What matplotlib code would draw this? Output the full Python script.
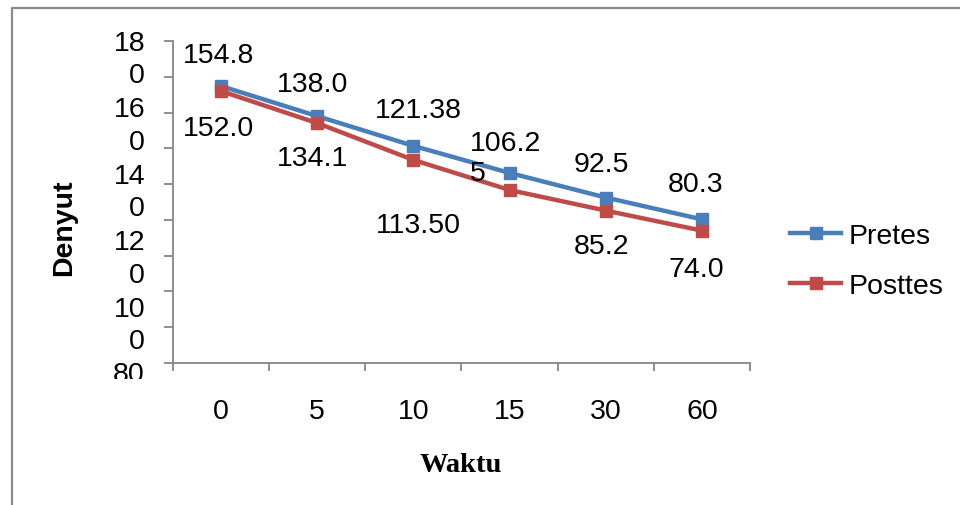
import matplotlib
matplotlib.use("Agg")
import matplotlib.pyplot as plt
from matplotlib.lines import Line2D
from matplotlib.transforms import Bbox

# ---- data ----
categories = ["0", "5", "10", "15", "30", "60"]
pretes = [154.8, 138.0, 121.38, 106.25, 92.5, 80.3]
posttes = [152.0, 134.1, 113.5, 96.7, 85.2, 74.0]
pretes_labels = ["154.8", "138.0", "121.38", "106.2\n5", "92.5", "80.3"]
posttes_labels = ["152.0", "134.1", "113.50", "", "85.2", "74.0"]
ytick_values = [180, 160, 140, 120, 100, 80]
series_names = ["Pretes", "Posttes"]

# ---- layout / styling ----
plt.rcParams['font.family'] = ['Liberation Sans', 'DejaVu Sans']
W, H = 960, 506
fig = plt.figure(figsize=(9.6, 5.06), dpi=100)
fig.patch.set_facecolor('white')

def fx(px):
    return px / W

def fy(py):
    return 1 - py / H

FS = 20.5
BLUE = '#4A7EBB'
RED = '#BE4B48'
GRAY = '#868686'

# outer frame (only top and left edges visible)
fig.add_artist(Line2D([fx(12), fx(12), fx(962)], [fy(510), fy(9), fy(9)],
                      transform=fig.transFigure, color='#8a8a8a', lw=1.6))

ax = fig.add_axes([fx(173), fy(364), (750 - 173) / W, (364 - 42) / H])
x = list(range(len(categories)))
ax.plot(x, pretes, color=BLUE, lw=3.2, marker='s', ms=8.5, label=series_names[0],
        solid_joinstyle='miter')
ax.plot(x, posttes, color=RED, lw=3.2, marker='s', ms=8.5, label=series_names[1],
        solid_joinstyle='miter')

ax.set_xlim(-0.5, len(categories) - 0.5)
ax.set_ylim(0, 180)
ax.set_yticks(list(range(0, 181, 20)))
ax.set_yticklabels([])
ax.set_xticks([i - 0.5 for i in range(len(categories) + 1)])
ax.set_xticklabels([])
ax.set_xticks(x, minor=True)
ax.set_xticklabels(categories, minor=True, fontsize=FS)
ax.tick_params(axis='x', which='minor', length=0, pad=25)
ax.tick_params(axis='x', which='major', length=6, width=1.3, color=GRAY, direction='out')
ax.tick_params(axis='y', which='major', length=6.5, width=1.3, color=GRAY, direction='out')
for s in ['top', 'right']:
    ax.spines[s].set_visible(False)
for s in ['left', 'bottom']:
    ax.spines[s].set_color(GRAY)
    ax.spines[s].set_linewidth(1.3)

# y tick labels (wrapped and stacked as in the reference, clipped at bottom)
clip = Bbox.from_extents(0, (H - 380), W, H)
for i, v in enumerate(ytick_values):
    s = str(v)
    txt = s[:2] + "\n" + s[2:] if len(s) > 2 else s
    cy = 60 + i * 66.5
    if len(s) <= 2:
        cy = 375
    t = fig.text(fx(145), fy(cy), txt, ha='right', va='center', fontsize=FS,
                 linespacing=1.33, multialignment='right')
    t.set_clip_box(clip)
    t.set_clip_on(True)

# data labels
p_off = [(-3, 31), (-5, 32), (5, 36), (-40, 15), (-4, 34), (-6, 35)]
q_off = [(-3, -37), (-5, -35), (5, -65), (0, 0), (-4, -35), (-6, -38)]
for i in x:
    lab = pretes_labels[i]
    if lab:
        ha = 'left' if "\n" in lab else 'center'
        ax.annotate(lab, (i, pretes[i]), xytext=p_off[i], textcoords='offset pixels',
                    ha=ha, va='center', fontsize=FS, linespacing=1.17,
                    multialignment='left', annotation_clip=False)
    lab = posttes_labels[i]
    if lab:
        ax.annotate(lab, (i, posttes[i]), xytext=q_off[i], textcoords='offset pixels',
                    ha='center', va='center', fontsize=FS, annotation_clip=False)

# axis titles
fig.text(fx(64), fy(228), "Denyut", rotation=90, ha='center', va='center',
         fontsize=FS, fontweight='bold')
fig.text(fx(461), fy(466), "Waktu", ha='center', va='center', fontsize=FS,
         fontweight='bold', family=['Liberation Serif', 'DejaVu Serif'])

# legend
ax.legend(loc='center left', bbox_to_anchor=(fx(790), fy(262)),
          bbox_transform=fig.transFigure, frameon=False, fontsize=FS,
          handlelength=1.8, handletextpad=0.25, labelspacing=0.85,
          borderpad=0, borderaxespad=0)

fig.savefig("out.png", dpi=100)
